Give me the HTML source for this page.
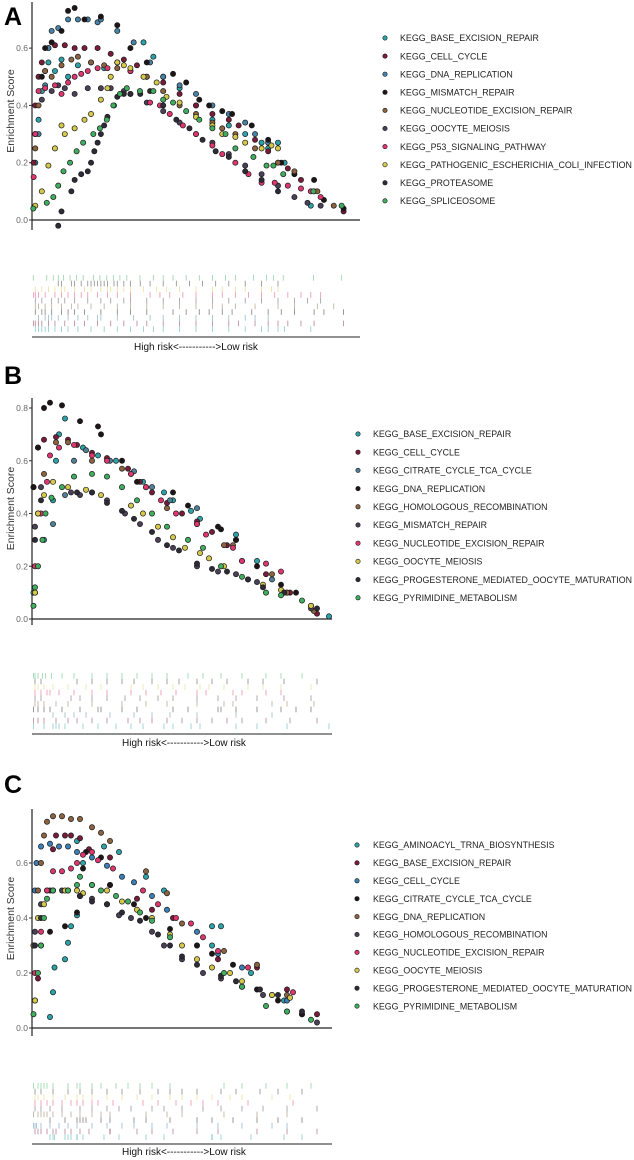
<!DOCTYPE html>
<html><head><meta charset="utf-8"><style>
html,body{margin:0;padding:0;background:#fff;}
svg{display:block;font-family:"Liberation Sans",Arial,sans-serif;}
</style></head><body>
<svg id="chart" width="634" height="1160" viewBox="0 0 634 1160"></svg>
<script>
// ---------- DATA (rank position in %, enrichment score) ----------
const aNames = ["KEGG_BASE_EXCISION_REPAIR","KEGG_CELL_CYCLE","KEGG_DNA_REPLICATION","KEGG_MISMATCH_REPAIR","KEGG_NUCLEOTIDE_EXCISION_REPAIR","KEGG_OOCYTE_MEIOSIS","KEGG_P53_SIGNALING_PATHWAY","KEGG_PATHOGENIC_ESCHERICHIA_COLI_INFECTION","KEGG_PROTEASOME","KEGG_SPLICEOSOME"];
const aRanks = [
 [1,2,3,4,5,7,9,11,14,18,22,26,30,34,37,40,45,50,55,60,65,70,72,75,77,85],
 [0.5,1,2,3,5,7,10,13,16,20,24,28,32,35,40,45,50,55,60,63,68,72,75,78,82,86,95],
 [2,4,5,6,8,11,14,17,20,21,26,31,36,40,45,50,55,60,65,68,72],
 [1,3,4,6,9,11,13,16,21,26,30,35,43,47,51,54,58,61,67,72,76,80,86,89,95],
 [1,2,4,6,9,12,14,18,22,26,30,35,40,45,50,55,58,62,68,75,80,87,92],
 [1,3,6,8,10,13,17,21,24,28,30,35,40,45,50,55,60,65,70,75,80,84,88],
 [0.5,1,2,4,7,9,11,13,15,17,20,23,26,30,36,39,42,46,50,55,58,62,66,70,74,78,82,85,88],
 [1,3,5,7,9,10,13,16,18,21,23,24,26,28,30,34,38,41,45,50,55,58,62,65,70,73,75],
 [8,9,12,13,15,17,18,19,20,21,22,23,25,26,28,30,33,36,40,44,48,52,56,60,65,70,75],
 [0.4,4.5,6.5,8,9.6,11.6,13.6,15.6,18.7,20.7,22.8,24.8,26.8,28.9,32.9,37,40,43,47,51,55,59,62,67.5,71.5,73.6,76.6,85.8,94.4]
];
const aScores = [
 [.2,.35,.45,.52,.55,.52,.56,.5,.54,.55,.53,.55,.52,.62,.57,.5,.46,.4,.35,.33,.3,.27,.25,.27,.2,.05],
 [.2,.4,.5,.55,.6,.61,.61,.6,.6,.6,.58,.56,.54,.5,.48,.44,.4,.37,.35,.33,.28,.24,.2,.18,.14,.1,.03],
 [.3,.47,.6,.66,.67,.7,.7,.7,.69,.7,.66,.62,.55,.5,.47,.44,.4,.37,.34,.3,.27],
 [.3,.5,.6,.62,.66,.73,.74,.7,.71,.68,.6,.55,.51,.48,.42,.4,.38,.37,.33,.28,.2,.16,.14,.07,.04],
 [.25,.4,.52,.5,.54,.56,.57,.55,.54,.53,.52,.5,.45,.4,.37,.34,.32,.3,.25,.2,.17,.1,.05],
 [.3,.42,.45,.47,.46,.44,.46,.46,.46,.45,.44,.41,.38,.34,.3,.27,.23,.19,.16,.12,.08,.06,.05],
 [.15,.3,.45,.46,.47,.44,.48,.5,.51,.52,.53,.53,.55,.52,.41,.4,.37,.33,.3,.26,.23,.2,.16,.13,.13,.12,.11,.1,.08],
 [.05,.1,.19,.25,.33,.3,.32,.35,.37,.42,.46,.5,.55,.54,.53,.5,.48,.43,.41,.36,.33,.3,.29,.27,.25,.26,.25],
 [-.02,.03,.1,.14,.16,.17,.2,.24,.27,.3,.33,.36,.4,.43,.44,.44,.44,.45,.4,.35,.32,.28,.24,.22,.17,.14,.1],
 [.04,.06,.08,.12,.17,.2,.24,.27,.3,.32,.35,.4,.44,.46,.45,.45,.42,.41,.38,.35,.32,.3,.25,.22,.19,.19,.16,.1,.05]
];
const aTicks = [0,0.2,0.4,0.6];
const aTickLabels = ["0.0","0.2","0.4","0.6"];

const bNames = ["KEGG_BASE_EXCISION_REPAIR","KEGG_CELL_CYCLE","KEGG_CITRATE_CYCLE_TCA_CYCLE","KEGG_DNA_REPLICATION","KEGG_HOMOLOGOUS_RECOMBINATION","KEGG_MISMATCH_REPAIR","KEGG_NUCLEOTIDE_EXCISION_REPAIR","KEGG_OOCYTE_MEIOSIS","KEGG_PROGESTERONE_MEDIATED_OOCYTE_MATURATION","KEGG_PYRIMIDINE_METABOLISM"];
const bRanks = [
 [0.5,4,7,8,9,11,17,22,28,33,37,44,47,53,56,68,75,85,99],
 [0.5,2,4,8,12,15,20,25,32,36,40,45,50,55,60,65,70,78,86,95],
 [7,11,14,18,26,34,40,46,55,68,80],
 [0.5,2,4,6,10,16,22,23,30,35,47,52,62,63,68,75,83,88,93],
 [1,2,4,8,12,20,30,38,45,55,64,67,80,85,94],
 [1,3,13,16,20,25,31,36,42,47,55,62,68,75,84,93],
 [1,3,5,6,9,14,20,25,33,38,43,48,55,58,67,70,78,83],
 [1,2,4,7,12,18,23,33,37,42,47,51,56,59,64,72,77,83,93],
 [1,3,15,20,25,30,34,40,45,49,55,60,65,72,77,84,95],
 [0.5,1,2,3.5,4.5,6.5,10,14,20,25,30,35,40,45,52,57,63,70,78,83,90]
];
const bScores = [
 [.1,.3,.45,.6,.7,.76,.65,.62,.6,.55,.52,.48,.45,.41,.38,.32,.22,.1,.01],
 [.5,.65,.68,.69,.68,.66,.63,.61,.57,.52,.48,.44,.4,.37,.33,.28,.22,.17,.1,.02],
 [.36,.47,.6,.64,.6,.56,.5,.45,.42,.3,.15],
 [.5,.65,.8,.82,.81,.75,.73,.7,.6,.52,.48,.43,.35,.34,.3,.2,.13,.1,.05],
 [.1,.4,.55,.67,.67,.6,.57,.5,.42,.36,.28,.28,.17,.1,.03],
 [.35,.5,.48,.47,.48,.45,.4,.36,.3,.27,.2,.18,.17,.14,.1,.04],
 [.2,.4,.52,.62,.65,.66,.62,.6,.55,.5,.45,.4,.36,.32,.27,.22,.21,.18],
 [.1,.4,.47,.52,.5,.49,.47,.43,.4,.35,.31,.27,.25,.23,.2,.15,.13,.11,.05],
 [.3,.45,.48,.48,.44,.41,.38,.33,.28,.26,.21,.19,.18,.15,.12,.1,.04],
 [.05,.12,.2,.3,.4,.46,.5,.54,.55,.54,.5,.45,.4,.35,.3,.27,.2,.16,.1,.09,.07]
];
const bTicks = [0,0.2,0.4,0.6,0.8];
const bTickLabels = ["0.0","0.2","0.4","0.6","0.8"];

const cNames = ["KEGG_AMINOACYL_TRNA_BIOSYNTHESIS","KEGG_BASE_EXCISION_REPAIR","KEGG_CELL_CYCLE","KEGG_CITRATE_CYCLE_TCA_CYCLE","KEGG_DNA_REPLICATION","KEGG_HOMOLOGOUS_RECOMBINATION","KEGG_NUCLEOTIDE_EXCISION_REPAIR","KEGG_OOCYTE_MEIOSIS","KEGG_PROGESTERONE_MEDIATED_OOCYTE_MATURATION","KEGG_PYRIMIDINE_METABOLISM"];
const cRanks = [
 [6,7,7.5,11,12,13,15,15,17,24,29,38,44,60,60,63,73,84,90],
 [1,2,3,5,7,8,11,13,16,19,26,26,35,40,47,55,62,75,85,95],
 [0.5,1,1.5,3,6,9,12,15,20,25,30,34,40,45,55,62,70,80,85],
 [6,11,15,16,17,18,23,26,34,38,46,55,60,67,75,82,90],
 [0.5,2,3,4,5,7,10,13,16,20,23,26,38,45,50,64,75,85],
 [1,3,6,10,16,20,25,29,33,40,44,50,57,63,70,77,85,95],
 [1,3,5,7,10,13,15,17,20,22,27,37,42,48,53,57,62,72,87],
 [1,2,4,7,11,15,17,20,25,30,35,40,46,50,55,60,66,70,80,86],
 [1,3,7,12,16,20,25,30,36,42,46,50,55,63,68,76,82,90],
 [0.5,2,3,4,5,7,12,15,16,20,23,28,32,36,40,46,64,70,78,85,93]
];
const cScores = [
 [.04,.13,.22,.25,.31,.37,.41,.68,.6,.66,.64,.55,.5,.37,.3,.37,.2,.1,.05],
 [.1,.18,.3,.5,.65,.7,.7,.7,.69,.65,.62,.52,.47,.43,.4,.3,.25,.22,.14,.05],
 [.3,.5,.6,.66,.67,.66,.66,.64,.62,.59,.55,.53,.48,.43,.35,.27,.22,.12,.1],
 [.35,.37,.42,.48,.58,.64,.62,.52,.45,.4,.36,.3,.27,.23,.14,.1,.05],
 [.3,.5,.6,.7,.75,.77,.77,.76,.76,.73,.71,.68,.57,.49,.38,.28,.23,.12],
 [.35,.45,.5,.5,.48,.47,.45,.41,.4,.35,.3,.25,.2,.18,.15,.12,.06,.02],
 [.2,.35,.5,.57,.57,.58,.6,.63,.64,.61,.58,.5,.45,.4,.38,.33,.28,.22,.13],
 [.1,.4,.45,.5,.5,.5,.49,.52,.5,.46,.43,.4,.34,.3,.25,.22,.2,.17,.12,.11],
 [.3,.4,.5,.5,.48,.46,.45,.42,.39,.34,.3,.26,.23,.19,.17,.14,.12,.06],
 [.05,.2,.3,.4,.47,.5,.5,.52,.55,.52,.5,.48,.46,.42,.39,.33,.2,.15,.08,.06,.03]
];
const cTicks = [0,0.2,0.4,0.6];
const cTickLabels = ["0.0","0.2","0.4","0.6"];

// ---------- STYLE / LAYOUT ----------
const colA = ["#2ba3a8","#7a1b3a","#4683a6","#1e1518","#8b6340","#4a4058","#e0356e","#d6c94a","#2e2b38","#3fae5f"];
const colB = ["#2ba3a8","#7a1b3a","#4f8098","#1e1518","#8b6340","#4a4058","#e0356e","#d6c94a","#2e2b38","#3fae5f"];
const colC = ["#2ba3a8","#7a1b3a","#3a7fb5","#1e1518","#8b6340","#4a4058","#e0356e","#d6c94a","#2e2b38","#3fae5f"];

const panels = [
 {id:"a",letter:"A",letterY:25,names:aNames,ranks:aRanks,scores:aScores,ticks:aTicks,tickLabels:aTickLabels,colors:colA,
  x0:32,x1:360,zeroY:220,ppu:286.5,axTop:2,axBot:230,rugTop:275,rugBot:332,rugLine:337,labelY:350,
  legDotX:385,legTextX:400,legY0:38,legDy:18.1,legW:232},
 {id:"b",letter:"B",letterY:384,names:bNames,ranks:bRanks,scores:bScores,ticks:bTicks,tickLabels:bTickLabels,colors:colB,
  x0:32,x1:332,zeroY:619,ppu:263.75,axTop:398,axBot:625,rugTop:673,rugBot:729,rugLine:734,labelY:746,
  legDotX:358,legTextX:373,legY0:434,legDy:18.2,legW:259},
 {id:"c",letter:"C",letterY:793,names:cNames,ranks:cRanks,scores:cScores,ticks:cTicks,tickLabels:cTickLabels,colors:colC,
  x0:32,x1:332,zeroY:1028,ppu:275,axTop:809,axBot:1036,rugTop:1083,rugBot:1140,rugLine:1144,labelY:1155,
  legDotX:357,legTextX:373,legY0:845,legDy:17.9,legW:259}
];

const NS = "http://www.w3.org/2000/svg";
const svg = document.getElementById("chart");
function mk(tag, attrs, parent){
  const e = document.createElementNS(NS, tag);
  for (const k in attrs) e.setAttribute(k, attrs[k]);
  (parent||svg).appendChild(e);
  return e;
}

panels.forEach(p => {
  const g = mk("g", {});
  
  
  const xs = r => p.x0 + (p.x1 - p.x0) * r / 100;
  const ys = v => p.zeroY - v * p.ppu;

  const letter = mk("text", {x:4, y:p.letterY, "font-size":25, "font-weight":"bold", fill:"#000"}, g);
  letter.textContent = p.letter;
  
  

  const yAx = mk("line", {x1:p.x0, x2:p.x0, y1:p.axTop, y2:p.axBot, stroke:"#222", "stroke-width":1.2}, g);
  
  
  const xAx = mk("line", {x1:p.x0, x2:p.x1, y1:p.zeroY, y2:p.zeroY, stroke:"#222", "stroke-width":1.2}, g);
  
  

  p.ticks.forEach((t, i) => {
    const ty = ys(t);
    const tk = mk("line", {x1:p.x0-3, x2:p.x0, y1:ty, y2:ty, stroke:"#333", "stroke-width":1}, g);
    
    
    const tl = mk("text", {x:p.x0-4, y:ty+3, "font-size":8.5, fill:"#666", "text-anchor":"end"}, g);
    tl.textContent = p.tickLabels[i];
    
    
  });

  const midY = (p.axTop + p.zeroY) / 2;
  const yt = mk("text", {x:0, y:0, "font-size":10.5, fill:"#333", "text-anchor":"middle", transform:`translate(14,${midY}) rotate(-90)`}, g);
  yt.textContent = "Enrichment Score";
  
  

  const n = p.names.length;
  const rowH = (p.rugBot - p.rugTop) / n;
  p.ranks.forEach((rs, si) => {
    const row = n - 1 - si;
    rs.forEach(r => {
      const rx = xs(r);
      const ln = mk("line", {x1:rx, x2:rx, y1:p.rugTop + row*rowH, y2:p.rugTop + (row+1)*rowH, stroke:p.colors[si], "stroke-width":0.8, "stroke-opacity":0.55}, g);
      
      
    });
  });
  const rl = mk("line", {x1:p.x0, x2:p.x1, y1:p.rugLine, y2:p.rugLine, stroke:"#222", "stroke-width":1}, g);
  
  
  const xl = mk("text", {x:(p.x0+p.x1)/2 + (p.id==="a"?0:2), y:p.labelY, "font-size":10, fill:"#111", "text-anchor":"middle"}, g);
  xl.textContent = "High risk<----------->Low risk";
  
  

  p.scores.forEach((vs, si) => {
    vs.forEach((v, k) => {
      const c = mk("circle", {cx:xs(p.ranks[si][k]), cy:ys(v), r:2.6, fill:p.colors[si], stroke:"#1a1a1a", "stroke-width":0.7}, g);
      
      
    });
  });

  const texts = [];
  p.names.forEach((nm, i) => {
    const ly = p.legY0 + i * p.legDy;
    const d = mk("circle", {cx:p.legDotX, cy:ly, r:2.2, fill:p.colors[i], stroke:"#1a1a1a", "stroke-width":0.6}, g);
    
    
    const t = mk("text", {x:p.legTextX, y:ly+3.2, "font-size":9, fill:"#222"}, g);
    t.textContent = nm;
    
    
    texts.push(t);
  });
  let maxW = 0;
  texts.forEach(t => { maxW = Math.max(maxW, t.getComputedTextLength()); });
  if (maxW > 0) {
    const fs = 9 * p.legW / maxW;
    texts.forEach(t => t.setAttribute("font-size", fs.toFixed(2)));
  }
});
</script>
</body></html>
